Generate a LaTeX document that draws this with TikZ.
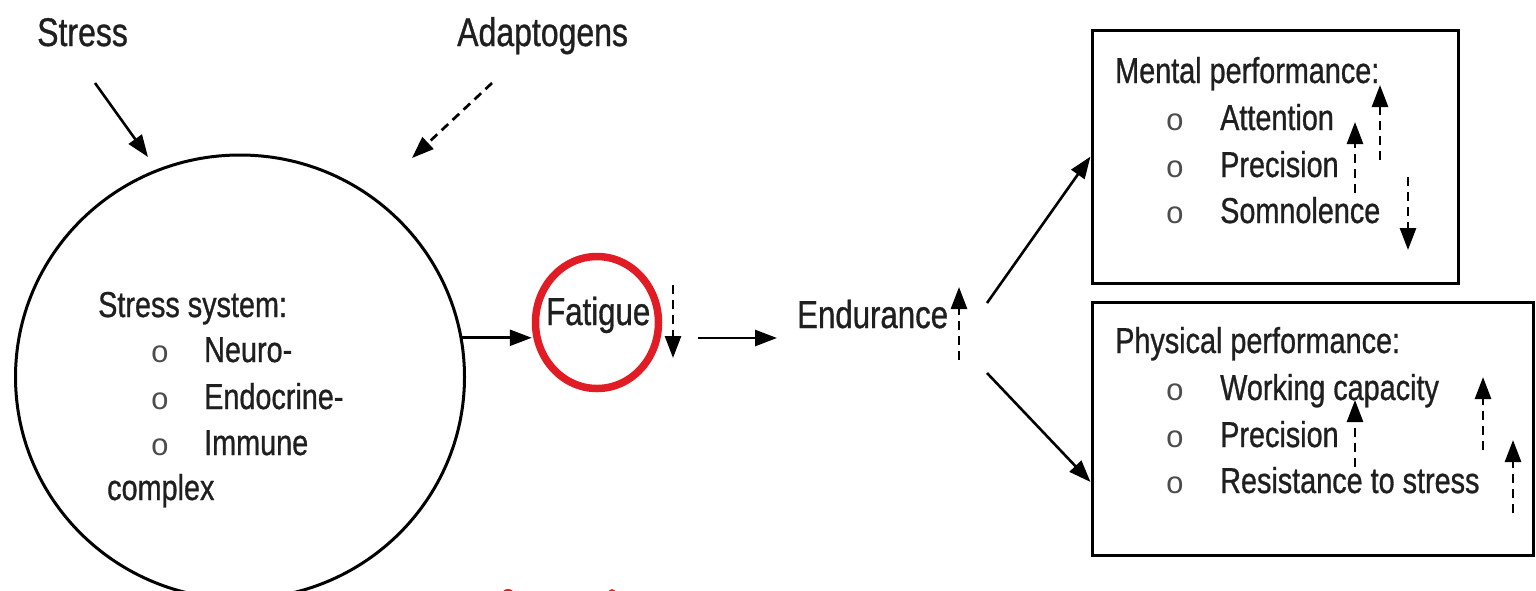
\documentclass[tikz,border=0pt]{standalone}
\usepackage{fontspec}
\setmainfont{Liberation Sans}[FakeStretch=0.8, FakeBold=0.8]
\newfontfamily\bulletfont{Liberation Mono}
\usetikzlibrary{arrows.meta,shapes.geometric}
\definecolor{ringred}{RGB}{226,28,36}
\newcommand\fsTop{\fontsize{40}{44}\selectfont}
\newcommand\fsMid{\fontsize{39}{43}\selectfont}
\newcommand\fsBody{\fontsize{36}{40}\selectfont}
\newcommand\blt{{\bulletfont\fontsize{31}{33}\selectfont o}}
\begin{document}
\begin{tikzpicture}[x=1pt,y=-1pt,
  txt/.style={inner sep=0pt, anchor=base west, text=black!88},
  bul/.style={inner sep=0pt, anchor=base, text=black!70},
  arr/.style={-{Triangle[length=22pt,width=16pt]}, line width=2.6pt},
  darr/.style={arr, line width=2.7pt, dash pattern=on 9pt off 6pt},
  frame/.style={draw, line width=3pt, inner sep=0pt, rectangle},
  ring/.style={draw=ringred, line width=7.5pt, ellipse, inner sep=0pt,
    minimum width=123pt, minimum height=132pt}]
\useasboundingbox (0,0) rectangle (1536,590);
\clip (0,0) rectangle (1536,590);

% inputs
\node[txt, font=\fsTop] (stress) at (37,46) {Stress};
\node[txt, font=\fsTop] (adapt) at (457,46) {Adaptogens};
\coordinate (stressTail) at (95,83);
\coordinate (stressTip) at (148,157);
\coordinate (adaptTail) at (492,83);
\coordinate (adaptTip) at (412,158);
\draw[arr] (stressTail) -- (stressTip);
\draw[darr] (adaptTail) -- (adaptTip);

% stress system
\node[draw, ellipse, line width=3pt, inner sep=0pt,
  minimum width=449pt, minimum height=444pt] (sys) at (240,377) {};
\node[txt, font=\fsBody] (sysT) at (98,317) {Stress system:};
\node[bul] (b1) at (160,362) {\blt};
\node[bul] (b2) at (160,409) {\blt};
\node[bul] (b3) at (160,455) {\blt};
\node[txt, font=\fsBody] (neuro) at (204,362) {Neuro-};
\node[txt, font=\fsBody] (endo) at (204,409) {Endocrine-};
\node[txt, font=\fsBody] (immu) at (204,455) {Immune};
\node[txt, font=\fsBody] (cplx) at (107,500) {complex};

% fatigue
\node[txt, font=\fsMid] (fat) at (546,325) {Fatigue};
\node[ring] (ring) at (597,322.5) {};
\draw[arr] (sys.10) -- (sys.10 -| ring.west);
\coordinate (fatTop) at (673,285);
\coordinate (fatBot) at (673,358);
\draw[darr] (fatTop) -- (fatBot);

% endurance
\node[txt, font=\fsMid] (endu) at (797,328) {Endurance};
\coordinate (fe1) at (698,338);
\coordinate (fe2) at (777,338);
\draw[arr] (fe1) -- (fe2);
\coordinate (enBot) at (959,360);
\coordinate (enTop) at (959,287);
\draw[darr] (enBot) -- (enTop);

% performance boxes
\node[frame, minimum width=366pt, minimum height=253pt] (mental) at (1275,156.5) {};
\node[frame, minimum width=441pt, minimum height=253pt] (phys) at (1312.5,428.5) {};
\coordinate (enUp) at (987,303);
\coordinate (enDn) at (987,373);
\draw[arr] (enUp) -- (mental.west);
\draw[arr] (enDn) -- ([yshift=-53.5pt]phys.west);

% mental performance
\node[txt, font=\fsBody] (mT) at (1115,83) {Mental performance:};
\node[bul] (mb1) at (1175,130) {\blt};
\node[bul] (mb2) at (1175,177) {\blt};
\node[bul] (mb3) at (1175,223) {\blt};
\node[txt, font=\fsBody] (att) at (1220,130) {Attention};
\node[txt, font=\fsBody] (prec1) at (1220,177) {Precision};
\node[txt, font=\fsBody] (somn) at (1220,223) {Somnolence};
\coordinate (m1a) at (1380,160); \coordinate (m1b) at (1380,85);
\coordinate (m2a) at (1355,193); \coordinate (m2b) at (1355,122);
\coordinate (m3a) at (1408,177); \coordinate (m3b) at (1408,250);
\draw[darr] (m1a) -- (m1b);
\draw[darr] (m2a) -- (m2b);
\draw[darr] (m3a) -- (m3b);

% physical performance
\node[txt, font=\fsBody] (pT) at (1115,353) {Physical performance:};
\node[bul] (pb1) at (1175,400) {\blt};
\node[bul] (pb2) at (1175,447) {\blt};
\node[bul] (pb3) at (1175,493) {\blt};
\node[txt, font=\fsBody] (work) at (1220,400) {Working capacity};
\node[txt, font=\fsBody] (prec2) at (1220,447) {Precision};
\node[txt, font=\fsBody] (resi) at (1220,493) {Resistance to stress};
\coordinate (p1a) at (1355,467); \coordinate (p1b) at (1355,400);
\coordinate (p2a) at (1483,450); \coordinate (p2b) at (1483,377);
\coordinate (p3a) at (1513,513); \coordinate (p3b) at (1513,440);
\draw[darr] (p1a) -- (p1b);
\draw[darr] (p2a) -- (p2b);
\draw[darr] (p3a) -- (p3b);

% red marks at the lower edge
\fill[ringred] (508,594) ellipse [x radius=6, y radius=5];
\fill[ringred] (612,594) ellipse [x radius=4, y radius=5];
\end{tikzpicture}
\end{document}
